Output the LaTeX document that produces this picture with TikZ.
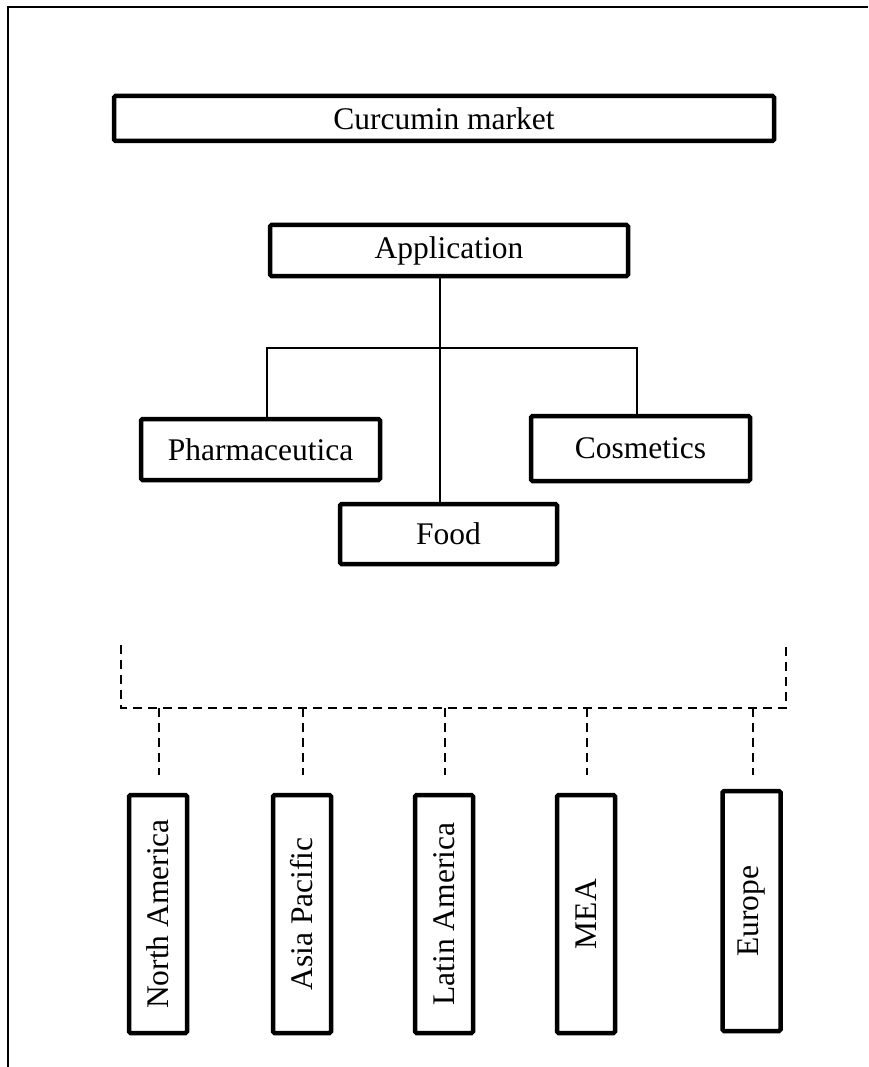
\documentclass[tikz,border=0pt]{standalone}
\usepackage{fontspec}
\setmainfont{Liberation Serif}
\begin{document}
\begin{tikzpicture}[x=1pt,y=-1pt,
  box/.style={draw, line width=4.5pt, rounded corners=1.5pt, inner sep=0pt,
    font=\fontsize{31.5}{36}\selectfont, align=center},
  vbox/.style={box, minimum width=238pt, minimum height=58pt},
  link/.style={line width=1.6pt},
  dlink/.style={line width=1.8pt, dash pattern=on 9pt off 6pt},
  frame/.style={line width=2pt}]
\useasboundingbox (0,0) rectangle (868,1067);
\coordinate (fbl) at (8,1067);
\coordinate (ftl) at (8,7);
\coordinate (ftr) at (868,7);
\draw[frame] (fbl) -- (ftl) -- (ftr);

\node[box, minimum width=660pt, minimum height=45pt] (cm) at (444,118.5) {Curcumin market};
\node[box, minimum width=358pt, minimum height=51pt] (app) at (449,250.5) {Application};
\node[box, minimum width=239pt, minimum height=61pt] (ph) at (260.5,449.5) {Pharmaceutica};
\node[box, minimum width=219pt, minimum height=65pt] (co) at (640.5,448.5) {Cosmetics};
\node[box, minimum width=217pt, minimum height=60pt] (fo) at (448.5,534) {Food};

\coordinate (hub) at (440,348);
\coordinate (hl) at (267,348);
\coordinate (hr) at (637,348);
\draw[link] (hub |- app.south) -- (hub |- fo.north);
\draw[link] (ph.north -| hl) -- (hl) -- (hr) -- (co.north -| hr);

\node[vbox, rotate=90] (na) at (158,914) {North America};
\node[vbox, rotate=90] (ap) at (302,914) {Asia Pacific};
\node[vbox, rotate=90] (la) at (444,914) {Latin America};
\node[vbox, rotate=90] (me) at (586,914) {MEA};
\node[vbox, rotate=90, minimum width=240pt] (eu) at (751.5,911) {Europe};

\coordinate (bl) at (121,708);
\coordinate (br) at (786,708);
\coordinate (blt) at (121,645);
\coordinate (brt) at (786,645);
\draw[dlink] (blt) -- (bl) -- (br) -- (brt);
\foreach \n/\x in {na/159, ap/303, la/445, me/587, eu/753}{
  \coordinate (\n top) at (\x,708);
  \coordinate (\n end) at (\x,775);
  \draw[dlink] (\n top) -- (\n end);
}
\end{tikzpicture}
\end{document}
